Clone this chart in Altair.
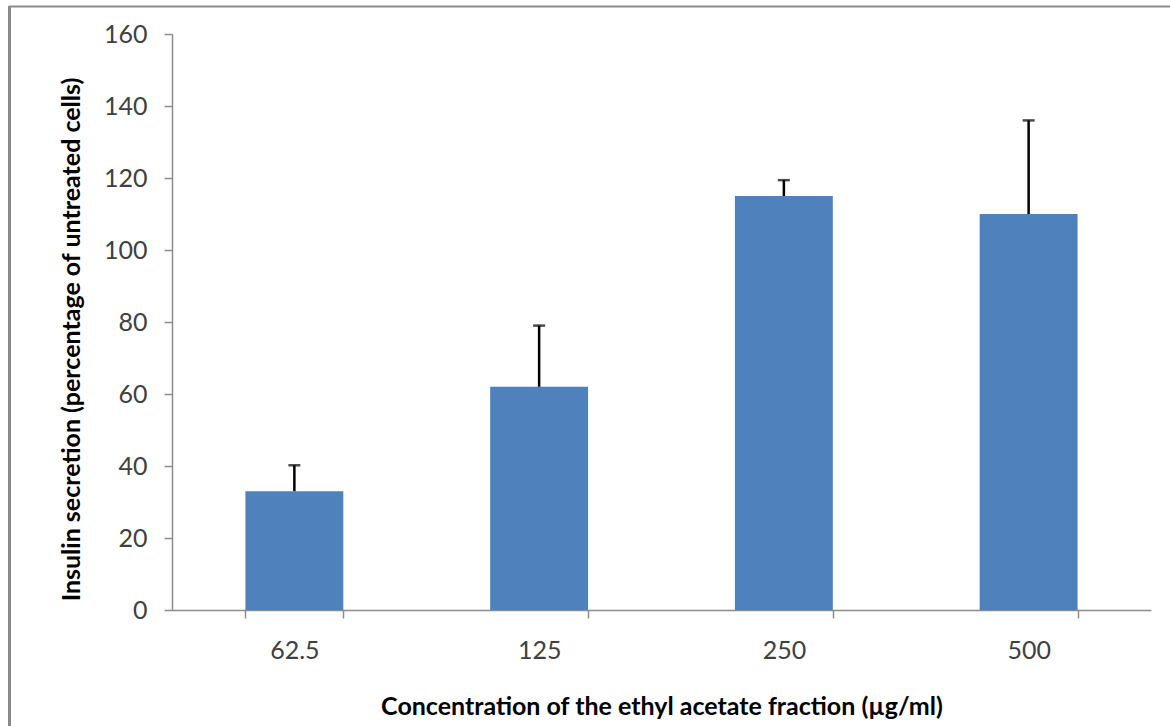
import altair as alt
import pandas as pd

# Insulin secretion by concentration of the ethyl acetate fraction
concentrations = ["62.5", "125", "250", "500"]
secretion = [33, 62, 115, 110]
upper_error = [40.2, 79, 119.4, 136]

df = pd.DataFrame({
    "conc": concentrations,
    "secretion": secretion,
    "upper": upper_error,
})

FONT = "Lato"
W, H = 979, 576

x_enc = alt.X(
    "conc:N",
    sort=concentrations,
    scale=alt.Scale(paddingInner=0.6, paddingOuter=0.3),
    axis=alt.Axis(
        title="Concentration of the ethyl acetate fraction (\u00b5g/ml)",
        labelAngle=0,
        tickBand="extent",
        tickSize=8,
        labelPadding=20,
        titleX=W / 2,
        titleY=96,
        titleBaseline="middle",
    ),
)

bars = alt.Chart(df).mark_bar(color="#4F81BD").encode(
    x=x_enc,
    y=alt.Y(
        "secretion:Q",
        scale=alt.Scale(domain=[0, 160], nice=False),
        axis=alt.Axis(
            title="Insulin secretion (percentage of untreated cells)",
            values=list(range(0, 161, 20)),
            tickSize=8,
            labelPadding=17,
            grid=False,
            titleX=-101,
            titleY=305,
            titleBaseline="middle",
        ),
    ),
)

err_line = alt.Chart(df).mark_rule(color="black", strokeWidth=2.5).encode(
    x=alt.X("conc:N", sort=concentrations),
    y="secretion:Q",
    y2="upper:Q",
)

err_cap = alt.Chart(df).mark_tick(color="black", size=12, thickness=2.5).encode(
    x=alt.X("conc:N", sort=concentrations),
    y="upper:Q",
)

# Gray frame along the top and left edges of the figure
frame = pd.DataFrame({"k": [0]})
frame_top = alt.Chart(frame).mark_rule(color="#8a8a8a", strokeWidth=2).encode(
    x=alt.value(-163), x2=alt.value(W + 19), y=alt.value(-27.5)
)
frame_left = alt.Chart(frame).mark_rule(color="#8a8a8a", strokeWidth=3).encode(
    x=alt.value(-162.5), y=alt.value(-28), y2=alt.value(H + 116)
)

chart = alt.layer(bars, err_line, err_cap, frame_top, frame_left).properties(
    width=W,
    height=H,
    autosize=alt.AutoSizeParams(type="none"),
    padding={"left": 172, "top": 34, "right": 19, "bottom": 116},
    background="white",
).configure_view(
    stroke=None
).configure_axis(
    labelFont=FONT,
    titleFont=FONT,
    labelFontSize=25,
    titleFontSize=25,
    titleFontWeight="bold",
    labelColor="#404040",
    titleColor="black",
    domainColor="#8c8c8c",
    tickColor="#8c8c8c",
    domainWidth=1.5,
    tickWidth=1.5,
)

chart.save("out.html", embed_options={"renderer": "svg", "actions": False})
